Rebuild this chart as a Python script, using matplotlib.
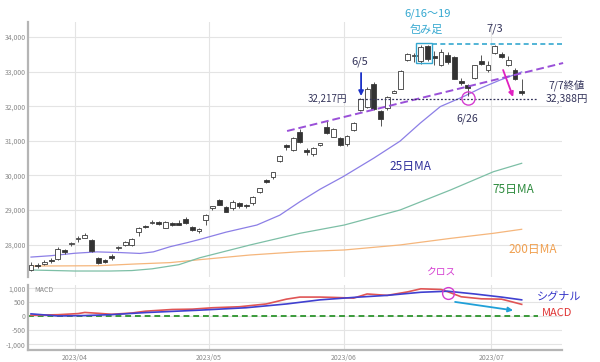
import matplotlib
matplotlib.use("Agg")
import matplotlib.pyplot as plt
from matplotlib.patches import Rectangle

plt.rcParams['font.family'] = ['Noto Sans CJK JP', 'DejaVu Sans']

# ---------------- data ----------------
dates = ["3/23", "3/24", "3/27", "3/28", "3/29", "3/30", "3/31",
         "4/3", "4/4", "4/5", "4/6", "4/7", "4/10", "4/11", "4/12", "4/13", "4/14",
         "4/17", "4/18", "4/19", "4/20", "4/21", "4/24", "4/25", "4/26", "4/27", "4/28",
         "5/1", "5/2", "5/8", "5/9", "5/10", "5/11", "5/12", "5/15", "5/16", "5/17",
         "5/18", "5/19", "5/22", "5/23", "5/24", "5/25", "5/26", "5/29", "5/30", "5/31",
         "6/1", "6/2", "6/5", "6/6", "6/7", "6/8", "6/9", "6/12", "6/13", "6/14", "6/15",
         "6/16", "6/19", "6/20", "6/21", "6/22", "6/23", "6/26", "6/27", "6/28", "6/29",
         "6/30", "7/3", "7/4", "7/5", "7/6", "7/7"]
opens = [27280, 27400, 27460, 27560, 27580, 27830, 28020,
         28170, 28200, 28130, 27600, 27530, 27650, 27900, 27990, 27990, 28375,
         28530, 28620, 28640, 28490, 28620, 28610, 28730, 28500, 28380, 28710,
         29050, 29290, 29100, 29050, 29190, 29140, 29190, 29530, 29850, 29945,
         30425, 30870, 30735, 31265, 30740, 30610, 30900, 31410, 31120, 31070,
         30910, 31310, 31890, 31970, 32650, 31850, 31950, 32400, 32500, 33330, 33450,
         33300, 33740, 33450, 33200, 33480, 33420, 32710, 32620, 32810, 33310,
         33060, 33530, 33510, 33200, 33050, 32440]
highs = [27500, 27480, 27560, 27600, 27920, 27870, 28080,
         28250, 28340, 28160, 27640, 27590, 27720, 27960, 28100, 28200, 28520,
         28560, 28700, 28680, 28690, 28650, 28700, 28800, 28530, 28480, 28880,
         29130, 29320, 29130, 29280, 29220, 29180, 29400, 29640, 29890, 30110,
         30600, 30920, 31100, 31350, 30790, 30830, 30950, 31560, 31360, 31100,
         31170, 31550, 32240, 32550, 32710, 31880, 32300, 32470, 33050, 33530, 33550,
         33772, 33772, 33600, 33650, 33560, 33450, 32820, 32650, 33200, 33480,
         33300, 33780, 33560, 33450, 33100, 32780]
lows = [27250, 27330, 27400, 27480, 27560, 27720, 27950,
        28080, 28180, 27790, 27430, 27480, 27560, 27850, 27950, 27960, 28260,
        28480, 28600, 28560, 28480, 28540, 28560, 28600, 28390, 28330, 28580,
        29000, 29150, 28940, 29000, 29070, 29050, 29150, 29500, 29780, 29900,
        30380, 30740, 30720, 30950, 30600, 30560, 30850, 31200, 31100, 30860,
        30860, 31280, 31850, 31950, 31900, 31440, 31900, 32380, 32490, 33300, 33280,
        33230, 33300, 33200, 33150, 33230, 32780, 32600, 32306, 32780, 33200,
        33000, 33500, 33380, 33150, 32750, 32330]
closes = [27419, 27385, 27477, 27518, 27884, 27783, 28041,
          28188, 28287, 27813, 27472, 27518, 27633, 27923, 28082, 28157, 28493,
          28514, 28658, 28606, 28657, 28564, 28593, 28620, 28416, 28457, 28856,
          29123, 29157, 28949, 29242, 29122, 29126, 29388, 29626, 29842, 30093,
          30573, 30808, 31086, 30957, 30682, 30801, 30916, 31233, 31328, 30887,
          31148, 31524, 32217, 32506, 31913, 31641, 32265, 32434, 33018, 33502, 33485,
          33706, 33370, 33388, 33575, 33265, 32781, 32698, 32538, 33193, 33234,
          33189, 33753, 33422, 33338, 32773, 32388]

# moving averages (trading-day index, value)
ma25_idx = [0, 3, 6.5, 9.8, 13.3, 16.2, 18.2, 20.7, 23.2, 25.1, 29, 33.6, 37, 40,
            43, 46.4, 51, 54.9, 57.9, 60.9, 64.3, 67, 69.8, 73]
ma25_val = [27640, 27680, 27750, 27790, 27770, 27745, 27790, 27940, 28055, 28150,
            28360, 28566, 28850, 29240, 29600, 29960, 30500, 30990, 31510, 31990,
            32275, 32530, 32757, 32990]
ma75_idx = [0, 6.5, 11.8, 15, 18, 22, 25.1, 32.6, 40, 46.6, 54.9, 62.4, 68.8, 73]
ma75_val = [27266, 27237, 27237, 27250, 27300, 27420, 27620, 27990, 28327, 28566,
            29000, 29578, 30107, 30350]
ma200_idx = [0, 10, 15.5, 20.7, 25.1, 32.6, 40, 46.6, 54.9, 62.4, 68.8, 73]
ma200_val = [27380, 27390, 27440, 27480, 27565, 27700, 27795, 27845, 27990, 28180,
             28327, 28443]

# MACD / signal
macd_idx = [0, 4, 7, 8, 10, 12, 15, 17, 21, 24, 27, 31, 35, 38, 40, 43, 45, 48, 50,
            53, 56, 58, 61, 62, 64, 67, 70, 71, 73]
macd_val = [40, 60, 100, 140, 110, 75, 120, 185, 246, 258, 308, 344, 443, 615, 689,
            689, 677, 652, 800, 750, 873, 984, 960, 880, 700, 627, 615, 554, 430]
sig_idx = [0, 4, 8, 12, 17, 25, 32, 38, 43, 48, 53, 58, 62, 66, 70, 73]
sig_val = [90, 15, 30, 62, 135, 221, 308, 443, 590, 677, 750, 861, 898, 800, 689, 590]

month_labels = ["2023/04", "2023/05", "2023/06", "2023/07"]
month_first = ["4/3", "5/1", "6/1", "7/3"]
price_ticks = [28000, 29000, 30000, 31000, 32000, 33000, 34000]
macd_ticks = [-1000, -500, 0, 500, 1000]

# ---------------- figure ----------------
W, H = 600, 362
fig = plt.figure(figsize=(6, 3.62), dpi=100)
ax = fig.add_axes([28 / W, 1 - 277 / H, (562 - 28) / W, (277 - 22) / H])
axm = fig.add_axes([28 / W, 1 - 350 / H, (562 - 28) / W, (350 - 285) / H], sharex=ax)

grid_c = '#e4e4e4'
tick_c = '#8a8a8a'
xs = list(range(len(dates)))
month_pos = [dates.index(d) - 0.5 for d in month_first]

for a in (ax, axm):
    for s in ('top', 'right', 'bottom'):
        a.spines[s].set_visible(False)
    a.spines['left'].set_color('#b5b5b5')
    a.spines['left'].set_linewidth(1.6)
    a.tick_params(length=0, labelsize=5, colors=tick_c, pad=1.5)
    a.set_axisbelow(True)
    for m in month_pos:
        a.axvline(m, color=grid_c, lw=0.8, zorder=0)
axm.spines['bottom'].set_visible(True)
axm.spines['bottom'].set_color('#b5b5b5')
axm.spines['bottom'].set_linewidth(1.6)

ax.set_xlim(-0.45, 79.0)
ax.set_ylim(27064, 34434)
ax.set_yticks(price_ticks)
ax.set_yticklabels([f"{v:,}" for v in price_ticks])
for v in price_ticks:
    ax.axhline(v, color=grid_c, lw=0.8, zorder=0)
ax.tick_params(axis='x', labelbottom=False)

# moving averages
ax.plot(ma200_idx, ma200_val, color='#f5b67c', lw=0.9, zorder=2)
ax.plot(ma75_idx, ma75_val, color='#7dbfa6', lw=0.9, zorder=2)
ax.plot(ma25_idx, ma25_val, color='#8c7fe6', lw=0.9, zorder=2)

# candles
for i in xs:
    o, h, l, c = opens[i], highs[i], lows[i], closes[i]
    ax.vlines(i, l, h, color='#3a3a3a', lw=0.6, zorder=3)
    height = max(abs(c - o), 45)
    bottom = min(o, c) - (height - abs(c - o)) / 2
    fc = 'white' if c >= o else '#333333'
    ax.add_patch(Rectangle((i - 0.36, bottom), 0.72, height, facecolor=fc,
                           edgecolor='#3a3a3a', lw=0.6, zorder=4))

# annotations on price panel
def px(x):
    return (x - 31) / 6.72

def py(y):
    return 34000 - (y - 37) * 28.9

navy = '#33335a'
cyan = '#35a8d0'
magenta = '#d43cd0'

# trend line
ax.plot([px(287), px(563)], [py(131), py(63)], color='#9a50d8', lw=1.4,
        ls=(0, (4, 2)), zorder=5, clip_on=False)
# 32,217 dotted line
ax.plot([px(358), px(537)], [32217, 32217], color=navy, lw=0.9, ls=(0, (1.5, 1.5)),
        zorder=5, clip_on=False)
# cyan box & line
ax.add_patch(Rectangle((px(416), py(63)), px(432) - px(416), py(43) - py(63),
                       facecolor='none', edgecolor=cyan, lw=1.0, zorder=6))
ax.plot([px(432), px(563)], [py(44.3), py(44.3)], color=cyan, lw=1.2,
        ls=(0, (3, 2)), zorder=5, clip_on=False)
# blue arrow at 6/5
ax.annotate('', xy=(px(361), py(96)), xytext=(px(361), py(73)),
            arrowprops=dict(arrowstyle='-|>', color='#1a30c8', lw=1.3,
                            mutation_scale=7, shrinkA=0, shrinkB=0), zorder=7)
# magenta arrow
ax.annotate('', xy=(px(513), py(97)), xytext=(px(503), py(70)),
            arrowprops=dict(arrowstyle='-|>', color='#e020c0', lw=1.3,
                            mutation_scale=7, shrinkA=0, shrinkB=0), zorder=7)
# circle 6/26
ax.plot([px(468)], [py(97.5)], marker='o', ms=9.5, mfc='none', mec=magenta,
        mew=1.0, zorder=7)

fs = 8
def ftxt(x, y, s, color, size=fs, ha='center'):
    fig.text(x / W, 1 - y / H, s, color=color, fontsize=size, ha=ha, va='center')

ftxt(428, 14, "6/16～19", cyan)
ftxt(426, 30, "包み足", cyan)
ftxt(495, 29, "7/3", navy)
ftxt(360, 62, "6/5", navy)
ftxt(347, 99, "32,217円", navy, size=7, ha='right')
ftxt(467, 119, "6/26", navy, size=7.5)
ftxt(567, 85, "7/7終値", navy, size=7.5)
ftxt(567, 99, "32,388円", navy, size=7.5)
ftxt(410, 166, "25日MA", '#2f2f9a', size=8.5)
ftxt(513, 190, "75日MA", '#2e8b3e', size=8.5)
ftxt(533, 249, "200日MA", '#f0a050', size=8.5)
ftxt(441, 272, "クロス", magenta, size=7)
ftxt(559, 297, "シグナル", '#3535c8', size=8)
ftxt(557, 313, "MACD", '#e03535', size=8)

# ---------------- MACD panel ----------------
axm.set_ylim(-1200, 1120)
axm.set_yticks(macd_ticks)
axm.set_yticklabels([f"{v:,}" for v in macd_ticks])
for v in macd_ticks:
    axm.axhline(v, color=grid_c, lw=0.8, zorder=0)
axm.set_xticks(month_pos)
axm.set_xticklabels(month_labels)
axm.tick_params(axis='x', pad=3)

def mpy(y):
    return (316.7 - y) * 35.8

axm.plot([-0.45, px(538)], [0, 0], color='#3a9a3a', lw=1.4, ls=(0, (3, 2)),
         zorder=2, clip_on=False)
axm.plot(macd_idx, macd_val, color='#e05555', lw=1.2, zorder=3)
axm.plot(sig_idx, sig_val, color='#4040d0', lw=1.2, zorder=4)
axm.plot([px(448)], [mpy(293)], marker='o', ms=8.5, mfc='none', mec=magenta,
         mew=1.0, zorder=6)
axm.annotate('', xy=(px(513), mpy(310.7)), xytext=(px(455), mpy(302.3)),
             arrowprops=dict(arrowstyle='-|>', color='#20a0d8', lw=1.3,
                             mutation_scale=7, shrinkA=0, shrinkB=0), zorder=7)
axm.text(0.5, 930, "MACD", color=tick_c, fontsize=5, va='center', ha='left')

fig.savefig("out.png", dpi=100)
